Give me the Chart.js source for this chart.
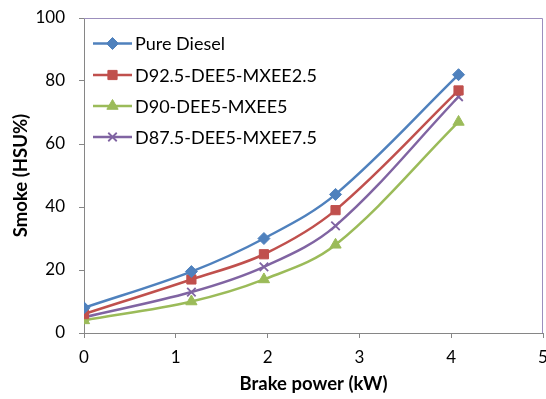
<!DOCTYPE html>
<html>
<head>
<meta charset="utf-8">
<script src="https://cdn.jsdelivr.net/npm/chart.js@4.4.1/dist/chart.umd.min.js"></script>
<style>
  html, body { margin: 0; padding: 0; background: #fff; }
  #wrap { width: 546px; height: 399px; }
</style>
</head>
<body>
<div id="wrap"><canvas id="smoke"></canvas></div>
<script>
// brake power (kW) at each load step
const power = [0, 1.17, 1.96, 2.74, 4.08];
// smoke opacity (HSU%) per fuel
const pureDiesel = [8, 19.5, 30, 44, 82];
const d925 = [6, 17, 25, 39, 77];
const d90 = [4, 10, 17, 28, 67];
const d875 = [5, 13, 21, 34, 75];
const seriesNames = ['Pure Diesel', 'D92.5-DEE5-MXEE2.5', 'D90-DEE5-MXEE5', 'D87.5-DEE5-MXEE7.5'];
const xTicks = [0, 1, 2, 3, 4, 5];
const yTicks = [0, 20, 40, 60, 80, 100];

const FONT = 'Lato, "Open Sans", sans-serif';
const AXIS = '#868686';
const FRAME = '#9c8fbd';

const xy = (ys) => ys.map((y, i) => ({ x: power[i], y }));

function series(label, data, color, style, radius, bw) {
  return {
    label, data: xy(data),
    borderColor: color, backgroundColor: color,
    pointBorderColor: color, pointBackgroundColor: color,
    pointStyle: style, pointRadius: radius, pointBorderWidth: bw,
    borderWidth: 2.5, tension: 0.35, fill: false,
  };
}

// no extra room for overhanging tick labels: plot area is fixed like the original
const noPad = (s) => { s.getPadding = () => ({ left: 0, right: 0, top: 0, bottom: 0 }); };

// legend drawn inside the plot area, top-left, like the Excel original
const innerLegend = {
  id: 'innerLegend',
  afterDraw(chart) {
    const ctx = chart.ctx;
    const x0 = 93, x1 = 132, tx = 135;
    const rows = [43.5, 75, 106, 137];
    ctx.save();
    chart.data.datasets.forEach((ds, i) => {
      const y = rows[i];
      ctx.strokeStyle = ds.borderColor;
      ctx.lineWidth = ds.borderWidth;
      ctx.beginPath(); ctx.moveTo(x0, y); ctx.lineTo(x1, y); ctx.stroke();
      ctx.fillStyle = ds.backgroundColor;
      ctx.lineWidth = ds.pointBorderWidth;
      Chart.helpers.drawPoint(ctx, { pointStyle: ds.pointStyle, radius: ds.pointRadius, borderWidth: ds.pointBorderWidth, rotation: 0 }, (x0 + x1) / 2, y);
      ctx.fillStyle = '#000';
      ctx.font = '18px ' + FONT;
      ctx.textBaseline = 'middle';
      ctx.textAlign = 'left';
      ctx.fillText(ds.label, tx, y + 1);
    });
    ctx.restore();
  },
};

// top and right border of the plot area
const frame = {
  id: 'frame',
  beforeDatasetsDraw(chart) {
    const { left, right, top, bottom } = chart.chartArea;
    const ctx = chart.ctx;
    ctx.save();
    ctx.strokeStyle = FRAME;
    ctx.lineWidth = 1;
    ctx.beginPath();
    ctx.moveTo(left, top + 0.5); ctx.lineTo(right - 0.5, top + 0.5); ctx.lineTo(right - 0.5, bottom);
    ctx.stroke();
    ctx.restore();
  },
};

new Chart(document.getElementById('smoke'), {
  type: 'line',
  data: {
    datasets: [
      series(seriesNames[0], pureDiesel, '#4F81BD', 'rectRot', 6, 1),
      series(seriesNames[1], d925, '#C0504D', 'rect', 6.5, 1),
      series(seriesNames[2], d90, '#9BBB59', 'triangle', 6.5, 1),
      series(seriesNames[3], d875, '#8064A2', 'crossRot', 6, 1.8),
    ],
  },
  options: {
    responsive: true,
    maintainAspectRatio: false,
    animation: false,
    layout: { autoPadding: false, padding: { top: 18, right: 3, left: 0, bottom: 0 } },
    plugins: { legend: { display: false }, tooltip: { enabled: false } },
    scales: {
      x: {
        type: 'linear', min: 0, max: 5,
        afterFit: (s) => { s.height = 66; noPad(s); },
        afterBuildTicks: (s) => { s.ticks = xTicks.map((v) => ({ value: v })); },
        ticks: { color: '#000', font: { family: FONT, size: 17 }, padding: 9 },
        grid: { drawOnChartArea: false, drawTicks: true, tickLength: 5, color: AXIS },
        border: { color: AXIS, width: 1 },
        title: { display: true, text: 'Brake power (kW)', color: '#000', font: { family: FONT, size: 18.5, weight: 'bold' }, padding: { top: 2 } },
      },
      y: {
        min: 0, max: 100,
        afterFit: (s) => { s.width = 84; noPad(s); },
        afterBuildTicks: (s) => { s.ticks = yTicks.map((v) => ({ value: v })); },
        ticks: { color: '#000', font: { family: FONT, size: 17 }, padding: 14 },
        grid: { drawOnChartArea: false, drawTicks: true, tickLength: 5, color: AXIS },
        border: { color: AXIS, width: 1 },
        title: { display: true, text: 'Smoke (HSU%)', color: '#000', font: { family: FONT, size: 18.5, weight: 'bold' }, padding: { top: 10, bottom: 0 } },
      },
    },
  },
  plugins: [frame, innerLegend],
});
</script>
</body>
</html>
